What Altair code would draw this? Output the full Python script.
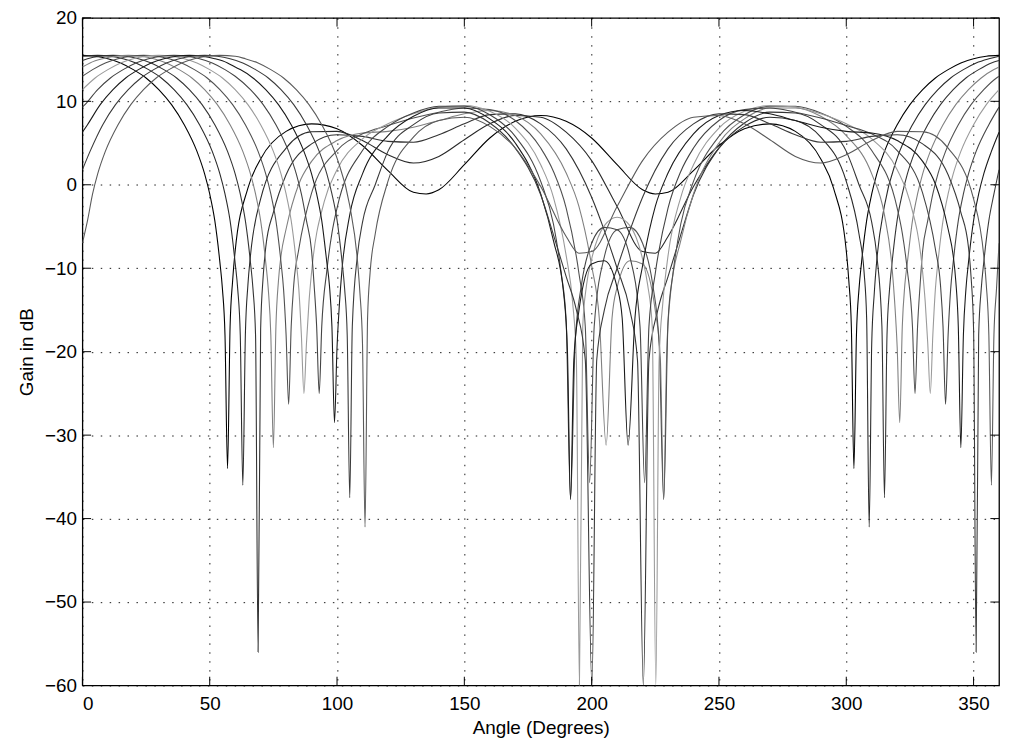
import altair as alt
import pandas as pd

# ---- data: gain (dB) vs angle (degrees), one list of (angle, gain) per beam ----
BEAM_00 = [(0,15.5),(5,15.4),(10,15.1),(15,14.6),(20,13.8),(25,12.8),(30,11.4),(35,9.6),(40,7.2),(45,4.0),(48,1.3),(50,-1.1),(52,-4.3),(54,-9.3),(55,-12.5),(56,-18),(57,-34),(58,-17),(59,-11.5),(60,-7.9),(65,-0.4),(70,3.1),(80,6.4),(90,7.3),(100,6.7),(110,4.7),(120,1.7),(130,-0.9),(135,-1.1),(140,-0.6),(150,2.4),(160,5.6),(170,7.6),(180,8.3),(190,7.6),(200,5.6),(210,2.4),(220,-0.6),(225,-1.1),(230,-0.9),(240,1.7),(250,4.7),(260,6.7),(270,7.3),(280,6.4),(290,3.1),(295,-0.4),(300,-7.9),(301,-11.5),(302,-17),(303,-34),(304,-18),(305,-12.5),(306,-9.3),(308,-4.3),(310,-1.1),(312,1.3),(315,4.0),(320,7.2),(325,9.6),(330,11.4),(335,12.8),(340,13.8),(345,14.6),(350,15.1),(355,15.4),(360,15.5)]

BEAM_06 = [(0,15.4),(6,15.5),(11,15.4),(16,15.1),(21,14.6),(26,13.8),(31,12.8),(36,11.4),(41,9.6),(46,7.2),(51,4.0),(54,1.3),(56,-1.1),(58,-4.3),(60,-9.4),(61,-12.5),(62,-18),(63,-36),(64,-18),(65,-12),(66,-8.5),(70,-1.7),(80,4.4),(90,6.35),(100,6.4),(110,5.3),(120,3.6),(130,2.6),(140,3.4),(150,5.4),(160,7.3),(170,8.3),(180,8.1),(190,6.3),(200,2.9),(210,-2.6),(220,-8.0),(225,-8.2),(230,-6.2),(240,-0.2),(250,4.4),(260,7.0),(270,8.1),(280,7.7),(290,5.7),(300,0.4),(305,-5.9),(307,-10.5),(308,-16),(309,-41),(310,-19),(311,-13),(312,-9),(315,-2.5),(320,3.2),(326,7.2),(331,9.6),(336,11.4),(341,12.8),(346,13.8),(351,14.6),(356,15.1),(360,15.4)]

BEAM_12 = [(0,14.9),(2,15.1),(7,15.4),(12,15.5),(17,15.4),(22,15.1),(27,14.6),(32,13.8),(37,12.8),(42,11.4),(47,9.6),(52,7.2),(57,4.0),(60,1.3),(62,-1.1),(64,-4.3),(66,-9.3),(67,-12.5),(68,-18),(69,-56),(70,-17.3),(71,-11),(72,-7.5),(75,-3.3),(80,1.2),(90,4.9),(100,6.0),(110,5.8),(120,5.2),(130,5.1),(140,6.0),(150,7.3),(160,8.4),(170,8.5),(180,7.3),(190,4.3),(200,-1.5),(205,-5.5),(210,-10),(215,-15),(218,-21),(220.3,-60),(222.5,-21),(226,-15),(230,-11),(235,-6),(240,-1.2),(250,4.4),(260,7.4),(270,8.7),(280,8.6),(290,7.2),(300,4.0),(305,0.0),(310,-4.5),(312,-8.5),(314,-17),(315,-37.5),(316,-18),(317,-12.5),(318,-9.3),(320,-4.2),(322,-1.1),(324,1.3),(327,4.0),(332,7.2),(337,9.6),(342,11.4),(347,12.8),(352,13.8),(357,14.6),(360,14.9)]

BEAM_18 = [(0,14.1),(3,14.6),(8,15.1),(13,15.4),(18,15.5),(23,15.4),(28,15.1),(33,14.6),(38,13.8),(43,12.8),(48,11.4),(53,9.6),(58,7.2),(63,4.0),(66,1.3),(68,-1.1),(70,-4.3),(72,-9.3),(73,-12.5),(74,-18),(75,-31.5),(76,-17),(77,-11.5),(78,-8.5),(80,-5.3),(85,0.1),(90,2.8),(100,5.3),(110,6.2),(120,6.4),(130,6.9),(140,7.7),(150,8.5),(160,8.9),(170,8.3),(180,6.1),(190,1.4),(195,-2.6),(200,-9.7),(203,-16),(205.7,-31.2),(208,-16),(210,-12.3),(215,-9.1),(220,-9.5),(225,-15.1),(227,-21),(228.3,-37.7),(229.5,-20),(231,-13),(235,-6.7),(240,-1.1),(250,5.0),(260,7.9),(270,9.2),(280,9.2),(290,8.2),(300,5.9),(310,1.3),(315,-3.6),(318,-10),(319,-14),(320,-19.5),(321,-28.5),(322,-17),(323,-12),(324,-9.3),(326,-4.3),(328,-1.1),(330,1.3),(333,4.0),(338,7.2),(343,9.6),(348,11.4),(353,12.8),(358,13.8),(360,14.1)]

BEAM_24 = [(0,13.0),(4,13.8),(9,14.6),(14,15.1),(19,15.4),(24,15.5),(29,15.4),(34,15.1),(39,14.6),(44,13.8),(49,12.8),(54,11.4),(59,9.6),(64,7.2),(69,4.0),(72,1.3),(74,-1.1),(76,-4.3),(78,-9.3),(79,-12.5),(80,-18),(81,-26.3),(82,-17),(83,-12),(85,-7.7),(90,-1.0),(100,4.1),(110,6.1),(120,7.1),(130,8.0),(140,8.7),(150,9.2),(160,9.0),(170,7.7),(180,4.4),(185,1.6),(190,-2.8),(195,-10.6),(197.5,-17),(199.2,-35.7),(201,-17),(205,-8.6),(210,-5.4),(215,-5.1),(220,-7.0),(224,-12),(226.5,-19),(228.3,-37.7),(230,-16.4),(232,-10.5),(235,-4.7),(240,0.4),(250,5.8),(260,8.4),(270,9.4),(280,9.4),(290,8.6),(300,7.0),(310,4.1),(320,-2.8),(322,-5.8),(324,-10.3),(326,-17),(327,-25),(328,-17),(329,-12),(330,-7.9),(332,-4.3),(334,-1.1),(336,1.3),(339,4.0),(344,7.2),(349,9.6),(354,11.4),(359,12.8),(360,13.0)]

BEAM_30 = [(0,11.4),(5,12.8),(10,13.8),(15,14.6),(20,15.1),(25,15.4),(30,15.5),(35,15.4),(40,15.1),(45,14.6),(50,13.8),(55,12.8),(60,11.4),(65,9.6),(70,7.2),(75,4.0),(78,1.3),(80,-1.1),(82,-4.3),(84,-9.3),(85,-12.5),(86,-18),(87,-25),(88,-19),(89,-14),(90,-10.5),(95,-2.0),(100,1.8),(110,5.5),(120,7.3),(130,8.5),(140,9.3),(150,9.5),(160,8.8),(170,6.8),(180,2.4),(185,-1.5),(190,-8.5),(192.5,-14),(194,-21),(195.2,-60),(196.5,-17),(198,-12),(200,-8.9),(205,-4.9),(210,-3.9),(215,-4.9),(220,-8.9),(222,-12),(223.8,-17),(225.2,-60),(226.5,-21),(228,-14),(230,-8.5),(235,-1.5),(240,2.4),(250,6.8),(260,8.8),(270,9.5),(280,9.3),(290,8.5),(300,7.3),(310,5.5),(320,1.8),(325,-2.0),(330,-10.5),(331,-14),(332,-19),(333,-25),(334,-18),(335,-12.5),(336,-9.3),(338,-4.3),(340,-1.1),(342,1.3),(345,4.0),(350,7.2),(355,9.6),(360,11.4)]

BEAM_36 = [(0,9.3),(1,9.6),(6,11.4),(11,12.8),(16,13.8),(21,14.6),(26,15.1),(31,15.4),(36,15.5),(41,15.4),(46,15.1),(51,14.6),(56,13.8),(60,13.0),(66,11.4),(71,9.6),(76,7.2),(81,4.0),(84,1.3),(86,-1.1),(88,-4.3),(90,-7.9),(91,-12),(92,-17),(93,-25),(94,-17),(96,-10.3),(98,-5.8),(100,-2.8),(110,4.1),(120,7.0),(130,8.6),(140,9.4),(150,9.4),(160,8.4),(170,5.8),(180,0.4),(185,-4.7),(188,-10.5),(190,-16.4),(191.7,-37.7),(193.5,-19),(196,-12),(200,-7.0),(205,-5.1),(210,-5.4),(215,-8.6),(219,-17),(220.8,-35.7),(222.5,-17),(225,-10.6),(230,-2.8),(235,1.6),(240,4.4),(250,7.7),(260,9.0),(270,9.2),(280,8.7),(290,8.0),(300,7.1),(310,6.1),(320,4.1),(330,-1.0),(335,-7.7),(337,-12),(338,-17),(339,-26.3),(340,-18),(341,-12.5),(342,-9.3),(344,-4.3),(346,-1.1),(348,1.3),(351,4.0),(356,7.2),(360,9.3)]

BEAM_42 = [(0,6.3),(2,7.2),(7,9.6),(12,11.4),(17,12.8),(22,13.8),(27,14.6),(32,15.1),(37,15.4),(42,15.5),(47,15.4),(52,15.1),(57,14.6),(60,14.1),(62,13.8),(67,12.8),(72,11.4),(77,9.6),(82,7.2),(87,4.0),(90,1.3),(92,-1.1),(94,-4.3),(96,-9.3),(97,-12),(98,-17),(99,-28.5),(100,-19.5),(101,-14),(102,-10),(105,-3.6),(110,1.3),(120,5.9),(130,8.2),(140,9.2),(150,9.2),(160,7.9),(170,5.0),(180,-1.1),(185,-6.7),(189,-13),(190.5,-20),(191.7,-37.7),(193,-21),(195,-15.1),(200,-9.5),(205,-9.1),(210,-12.3),(212,-16),(214.3,-31.2),(217,-16),(220,-9.7),(225,-2.6),(230,1.4),(240,6.1),(250,8.3),(260,8.9),(270,8.5),(280,7.7),(290,6.9),(300,6.4),(310,6.2),(320,5.3),(330,2.8),(335,0.1),(340,-5.3),(342,-8.5),(343,-11.5),(344,-17),(345,-31.5),(346,-18),(347,-12.5),(348,-9.3),(350,-4.3),(352,-1.1),(354,1.3),(357,4.0),(360,6.3)]

BEAM_48 = [(0,1.8),(3,4.0),(8,7.2),(13,9.6),(18,11.4),(23,12.8),(28,13.8),(33,14.6),(38,15.1),(43,15.4),(48,15.5),(53,15.4),(58,15.1),(63,14.6),(68,13.8),(73,12.8),(78,11.4),(83,9.6),(88,7.2),(93,4.0),(96,1.3),(98,-1.1),(100,-4.2),(102,-9.3),(103,-12.5),(104,-18),(105,-37.5),(106,-17),(108,-8.5),(110,-4.5),(115,0.0),(120,4.0),(130,7.2),(140,8.6),(150,8.7),(160,7.4),(170,4.4),(180,-1.2),(185,-6),(190,-11),(194,-15),(197.5,-21),(200.1,-60),(202,-21),(205,-15),(210,-10),(215,-5.5),(220,-1.5),(230,4.3),(240,7.3),(250,8.5),(260,8.4),(270,7.3),(280,6.0),(290,5.1),(300,5.2),(310,5.8),(320,6.0),(330,4.9),(340,1.2),(345,-3.3),(348,-7.5),(349,-11),(350,-17.3),(351,-56),(352,-18),(353,-12.5),(354,-9.3),(356,-4.3),(358,-1.1),(360,1.8)]

BEAM_54 = [(0,-7.0),(2,-4.3),(4,-1.1),(6,1.3),(9,4.0),(14,7.2),(19,9.6),(24,11.4),(29,12.8),(34,13.8),(39,14.6),(44,15.1),(49,15.4),(54,15.5),(60,15.4),(64,15.1),(69,14.6),(74,13.8),(79,12.8),(84,11.4),(89,9.6),(94,7.2),(100,3.2),(105,-2.5),(108,-9),(109,-13),(110,-19),(111,-41),(112,-16),(113,-10.5),(115,-5.9),(120,0.4),(130,5.7),(140,7.7),(150,8.1),(160,7.0),(170,4.4),(180,-0.2),(190,-6.2),(195,-8.2),(200,-8.0),(210,-2.6),(220,2.9),(230,6.3),(240,8.1),(250,8.3),(260,7.3),(270,5.4),(280,3.4),(290,2.6),(300,3.6),(310,5.3),(320,6.4),(330,6.35),(340,4.4),(350,-1.7),(354,-8.5),(355,-12),(356,-18),(357,-36),(358,-18),(359,-12.5),(360,-7.0)]

BEAM_NAMES = ["b00", "b06", "b12", "b18", "b24", "b30", "b36", "b42", "b48", "b54"]
BEAMS = [BEAM_00, BEAM_06, BEAM_12, BEAM_18, BEAM_24, BEAM_30, BEAM_36, BEAM_42, BEAM_48, BEAM_54]

X_TICKS = [0, 50, 100, 150, 200, 250, 300, 350]
Y_TICKS = [-60, -50, -40, -30, -20, -10, 0, 10, 20]

# ---- styling (kept apart from data) ----
BEAM_COLORS = ["#000000", "#2a2a2a", "#333333", "#808080", "#505050",
               "#9a9a9a", "#444444", "#1a1a1a", "#3a3a3a", "#5a5a5a"]
FONT = "Liberation Sans"
TICK_DB = 1.05   # inward tick length in data units (~9 px)
TICK_DEG = 3.4

rows = []
for name, pts in zip(BEAM_NAMES, BEAMS):
    for i, (a, g) in enumerate(pts):
        rows.append({"beam": name, "angle": a, "gain": g, "ord": i})
df = pd.DataFrame(rows)

XS = alt.Scale(domain=[0, 360], nice=False, zero=False)
YS = alt.Scale(domain=[-60, 20], nice=False, zero=False)
XA = alt.Axis(values=X_TICKS, title="Angle (Degrees)", labelPadding=9, titlePadding=5,
              labelFontSize=19, titleFontSize=19)
YA = alt.Axis(values=Y_TICKS, title="Gain in dB", labelPadding=6, titlePadding=8,
              labelFontSize=19, titleFontSize=19)

lines = alt.Chart(df).mark_line(strokeWidth=1.1, clip=True, interpolate="monotone").encode(
    x=alt.X("angle:Q", scale=XS, axis=XA),
    y=alt.Y("gain:Q", scale=YS, axis=YA),
    color=alt.Color("beam:N", scale=alt.Scale(domain=BEAM_NAMES, range=BEAM_COLORS), legend=None),
    detail="beam:N",
    order="ord:Q",
)

xt = pd.DataFrame({"angle": X_TICKS})
yt = pd.DataFrame({"gain": Y_TICKS})
xt_top = xt.assign(g1=20.0, g2=20.0 - TICK_DB)
xt_bot = xt.assign(g1=-60.0, g2=-60.0 + TICK_DB)
yt_left = yt.assign(a1=0.0, a2=TICK_DEG)
yt_right = yt.assign(a1=360.0, a2=360.0 - TICK_DEG)

def vticks(d):
    return alt.Chart(d).mark_rule(color="black", strokeWidth=1).encode(
        x=alt.X("angle:Q", scale=XS, axis=XA),
        y=alt.Y("g1:Q", scale=YS, axis=YA),
        y2="g2:Q",
    )

def hticks(d):
    return alt.Chart(d).mark_rule(color="black", strokeWidth=1).encode(
        y=alt.Y("gain:Q", scale=YS, axis=YA),
        x=alt.X("a1:Q", scale=XS, axis=XA),
        x2="a2:Q",
    )

chart = alt.layer(
    lines, vticks(xt_top), vticks(xt_bot), hticks(yt_left), hticks(yt_right)
).properties(
    width=924, height=673, autosize="none",
    padding={"left": 75, "top": 7, "right": 5, "bottom": 52},
).configure_view(
    stroke="black", strokeWidth=1.3,
).configure_axis(
    domain=False, ticks=False, grid=True, gridColor="black", gridDash=[1.5, 7.5],
    gridWidth=1, gridOpacity=0.9, labelFont=FONT, titleFont=FONT, labelColor="black",
    titleColor="black", titleFontWeight="normal",
)

chart.save("out.html", embed_options={"renderer": "svg", "actions": False})
